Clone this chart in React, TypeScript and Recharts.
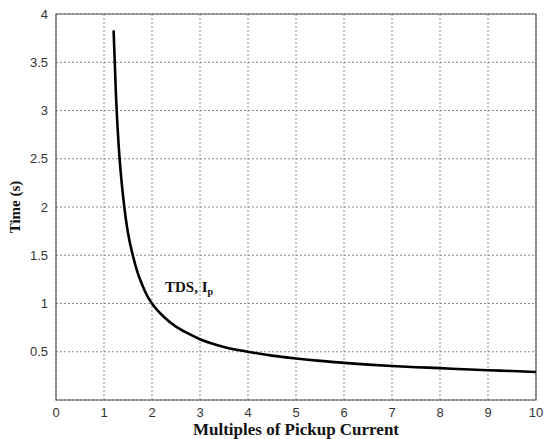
import { LineChart, Line, XAxis, YAxis, CartesianGrid, ReferenceArea, ReferenceDot, Label } from "recharts";

// values
const multiples = [1.2, 1.25, 1.3, 1.35, 1.4, 1.5, 1.6, 1.7, 1.8, 1.9, 2.0, 2.25, 2.5, 2.75, 3.0, 3.5, 4.0, 4.5, 5.0, 5.5, 6.0, 6.5, 7.0, 7.5, 8.0, 8.5, 9.0, 9.5, 10];
const times = [3.83, 3.15, 2.68, 2.35, 2.1, 1.73, 1.5, 1.32, 1.19, 1.08, 1.0, 0.86, 0.76, 0.69, 0.63, 0.55, 0.5, 0.46, 0.43, 0.405, 0.385, 0.367, 0.352, 0.34, 0.33, 0.318, 0.308, 0.3, 0.29];

const xTicks = [0, 1, 2, 3, 4, 5, 6, 7, 8, 9, 10];
const yTicks = [0, 0.5, 1, 1.5, 2, 2.5, 3, 3.5, 4];

const data = multiples.map((m, i) => ({ m, t: times[i] }));

const tickStyle = { fontFamily: "Liberation Sans, Arial, sans-serif", fontSize: 13, fill: "#333" };
const serifBold = { fontFamily: "Liberation Serif, Times New Roman, serif", fontWeight: "bold" as const, fontSize: 15, fill: "#111" };

export default function App() {
  return (
    <div style={{ position: "absolute", left: 0, top: 0, background: "#fff" }}>
      <LineChart width={544} height={439} data={data} margin={{ top: 14, right: 8, bottom: 0, left: 6 }}>
        <CartesianGrid stroke="#8a8a8a" strokeDasharray="2 2" />
        <XAxis
          dataKey="m"
          type="number"
          domain={[0, 10]}
          ticks={xTicks}
          tick={tickStyle}
          tickLine={false}
          axisLine={false}
          height={39}
          label={
            <Label
              content={({ viewBox }: any) => (
                <text
                  x={viewBox.x + viewBox.width / 2}
                  y={viewBox.y + viewBox.height - 4}
                  textAnchor="middle"
                  style={{ ...serifBold, fontSize: 17 }}
                >
                  Multiples of Pickup Current
                </text>
              )}
            />
          }
        />
        <YAxis
          type="number"
          domain={[0, 4]}
          ticks={yTicks}
          tick={tickStyle}
          tickLine={false}
          axisLine={false}
          width={50}
          tickFormatter={(v: number) => (v === 0 ? "" : String(v))}
          label={
            <Label
              content={({ viewBox }: any) => (
                <text
                  transform={`translate(${viewBox.x + 14}, ${viewBox.y + viewBox.height / 2}) rotate(-90)`}
                  textAnchor="middle"
                  style={serifBold}
                >
                  Time (s)
                </text>
              )}
            />
          }
        />
        <ReferenceArea x1={0} x2={10} y1={0} y2={4} fill="none" stroke="#555" strokeWidth={1.2} />
        <Line dataKey="t" type="monotone" stroke="#000" strokeWidth={2.6} dot={false} isAnimationActive={false} />
        <ReferenceDot
          x={2.27}
          y={1.12}
          r={0}
          label={{
            content: ({ viewBox }: any) => (
              <text x={viewBox.x} y={viewBox.y} style={serifBold}>
                TDS, I
                <tspan fontSize={10} dy={3}>p</tspan>
              </text>
            ),
          }}
        />
      </LineChart>
    </div>
  );
}
